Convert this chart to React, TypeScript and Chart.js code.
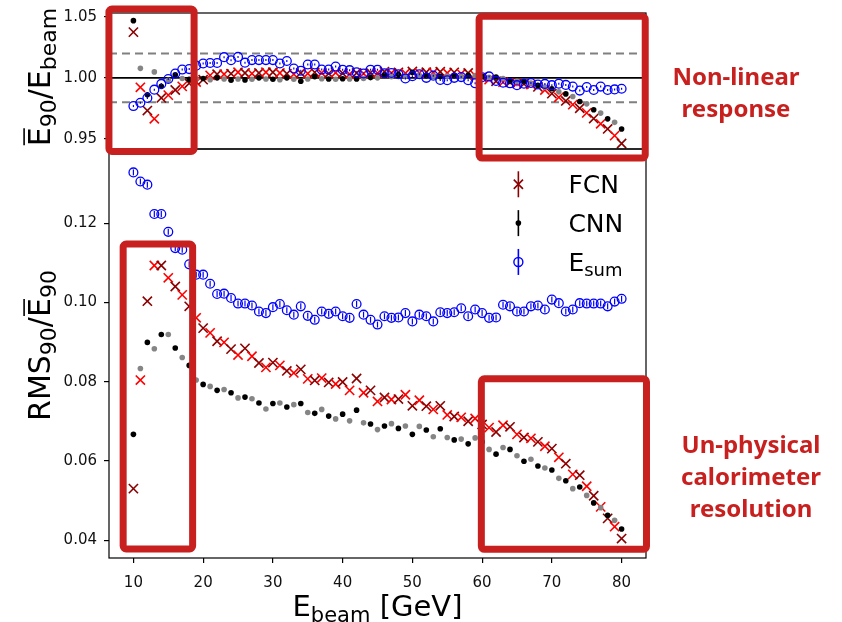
import React, { useEffect, useRef } from 'react';
import { Chart, registerables } from 'chart.js';
Chart.register(...registerables);

const ENERGY = [10, 11, 12, 13, 14, 15, 16, 17, 18, 19, 20, 21, 22, 23, 24, 25, 26, 27, 28, 29, 30, 31, 32, 33, 34, 35, 36, 37, 38, 39, 40, 41, 42, 43, 44, 45, 46, 47, 48, 49, 50, 51, 52, 53, 54, 55, 56, 57, 58, 59, 60, 61, 62, 63, 64, 65, 66, 67, 68, 69, 70, 71, 72, 73, 74, 75, 76, 77, 78, 79, 80];

// Top panel: mean E90 / Ebeam
const FCN_RESP = [1.0376, 0.9922, 0.9731, 0.9663, 0.9835, 0.9858, 0.99, 0.993, 0.9955, 0.9966, 0.9985, 1.002, 1.003, 1.003, 1.0034, 1.0046, 1.004, 1.0035, 1.004, 1.0046, 1.0046, 1.004, 1.0034, 1.003, 1.004, 1.0035, 1.0045, 1.004, 1.0035, 1.0042, 1.0038, 1.003, 1.004, 1.0035, 1.0042, 1.0038, 1.005, 1.004, 1.0045, 1.0038, 1.0052, 1.004, 1.0046, 1.0044, 1.005, 1.004, 1.0045, 1.0035, 1.004, 1.002, 1.0005, 0.9985, 0.9972, 0.9965, 0.9962, 0.9955, 0.995, 0.9945, 0.9925, 0.99, 0.987, 0.984, 0.981, 0.978, 0.975, 0.9712, 0.9665, 0.9622, 0.958, 0.9525, 0.946];
const CNN_RESP = [1.047, 1.0078, 0.986, 1.0049, 0.993, 0.998, 1.0024, 0.9995, 0.9987, 0.9993, 0.9995, 0.9985, 1.0, 0.999, 0.998, 0.999, 0.9982, 0.9988, 1.0, 0.999, 0.9988, 0.9985, 1.0, 0.9988, 0.9972, 0.999, 1.001, 0.9992, 0.999, 0.9988, 0.9992, 0.999, 0.999, 0.9995, 1.0002, 1.0, 1.0022, 1.001, 1.0028, 1.0015, 1.0045, 1.002, 1.002, 1.0015, 1.0012, 1.0015, 1.002, 1.001, 1.002, 1.0018, 1.0012, 1.0005, 1.0007, 0.9995, 0.9972, 0.9972, 0.997, 0.9957, 0.9938, 0.9924, 0.991, 0.9885, 0.9868, 0.9847, 0.9806, 0.9786, 0.9738, 0.971, 0.9663, 0.9634, 0.958];
const ESUM_RESP = [0.9768, 0.9795, 0.9834, 0.9903, 0.995, 0.999, 1.0036, 1.0068, 1.0072, 1.01, 1.0118, 1.0122, 1.0122, 1.017, 1.0145, 1.0172, 1.0125, 1.0146, 1.0146, 1.0146, 1.0146, 1.0118, 1.0138, 1.0077, 1.0058, 1.011, 1.011, 1.0068, 1.0068, 1.0093, 1.0067, 1.0063, 1.0045, 1.0036, 1.0067, 1.0067, 1.0038, 1.004, 1.003, 0.9995, 1.0014, 1.003, 1.0, 1.0018, 0.9982, 0.998, 1.0, 1.0006, 0.998, 0.9955, 1.0005, 1.0012, 0.9975, 0.996, 0.9955, 0.994, 0.9952, 0.9958, 0.9945, 0.995, 0.994, 0.9952, 0.9942, 0.9928, 0.9895, 0.9925, 0.99, 0.9928, 0.99, 0.9905, 0.991];

// Bottom panel: RMS90 / mean E90
const FCN_RES = [0.053, 0.0804, 0.1003, 0.1093, 0.1093, 0.1062, 0.104, 0.1019, 0.099, 0.0961, 0.0935, 0.0923, 0.0902, 0.0899, 0.0882, 0.0867, 0.0884, 0.0864, 0.0847, 0.0836, 0.0848, 0.0841, 0.0827, 0.0822, 0.0831, 0.0807, 0.0803, 0.0809, 0.0798, 0.0794, 0.0799, 0.0778, 0.0808, 0.0772, 0.0778, 0.075, 0.076, 0.0755, 0.0756, 0.0767, 0.0739, 0.0753, 0.0738, 0.073, 0.0739, 0.0716, 0.0712, 0.071, 0.07, 0.0707, 0.0692, 0.0684, 0.0673, 0.069, 0.0686, 0.0667, 0.0659, 0.0657, 0.0648, 0.0637, 0.0631, 0.0609, 0.0593, 0.0566, 0.0564, 0.0536, 0.0512, 0.0484, 0.0455, 0.0434, 0.0404];
const CNN_RES = [0.0667, 0.0833, 0.0899, 0.0883, 0.0919, 0.0919, 0.0885, 0.0861, 0.0841, 0.0804, 0.0793, 0.0788, 0.0778, 0.078, 0.0772, 0.0759, 0.0761, 0.0757, 0.0746, 0.0731, 0.0745, 0.0746, 0.0736, 0.0742, 0.0745, 0.0722, 0.072, 0.073, 0.0713, 0.0706, 0.0718, 0.0701, 0.0728, 0.0696, 0.0693, 0.0679, 0.0688, 0.0694, 0.0682, 0.0688, 0.0667, 0.0687, 0.0678, 0.0661, 0.0681, 0.0659, 0.0653, 0.0655, 0.0643, 0.0658, 0.0648, 0.0629, 0.0617, 0.0634, 0.0629, 0.0613, 0.0599, 0.0604, 0.0587, 0.0582, 0.0577, 0.0556, 0.055, 0.053, 0.0534, 0.0513, 0.0494, 0.0482, 0.0463, 0.045, 0.0428];
const ESUM_RES = [0.1328, 0.1305, 0.1297, 0.1223, 0.1223, 0.1178, 0.1137, 0.1133, 0.1096, 0.107, 0.107, 0.1047, 0.1021, 0.1022, 0.1011, 0.0997, 0.0997, 0.0992, 0.0977, 0.0973, 0.0988, 0.0996, 0.098, 0.0969, 0.099, 0.0966, 0.0956, 0.0977, 0.0971, 0.0977, 0.0965, 0.0961, 0.0996, 0.0969, 0.0956, 0.0944, 0.0965, 0.0961, 0.0962, 0.0973, 0.0952, 0.0969, 0.0965, 0.0952, 0.0975, 0.0973, 0.0975, 0.0985, 0.0965, 0.0982, 0.0973, 0.0961, 0.0962, 0.0994, 0.099, 0.0977, 0.0977, 0.099, 0.0992, 0.0982, 0.1007, 0.0998, 0.0977, 0.0982, 0.0998, 0.0997, 0.0997, 0.0997, 0.099, 0.1002, 0.1009];

const X_TICKS = [10, 20, 30, 40, 50, 60, 70, 80];
const TOP_TICKS = [0.95, 1.0, 1.05];
const BOTTOM_TICKS = [0.04, 0.06, 0.08, 0.1, 0.12];
const REF_LINES = [0.98, 1.0, 1.02];
const LEGEND_LABELS = ['FCN', 'CNN', 'E'];

// annotation boxes in data units of their panel
const BOXES = [
  { axis: 'yTop', x0: 6.49, x1: 18.7, y0: 1.0566, y1: 0.9395 },
  { axis: 'yTop', x0: 59.57, x1: 83.39, y0: 1.0506, y1: 0.934 },
  { axis: 'y', x0: 8.53, x1: 18.49, y0: 0.1147, y1: 0.0378 },
  { axis: 'y', x0: 59.89, x1: 83.57, y0: 0.0807, y1: 0.0377 },
];

const DARKRED = '#8b0000';
const RED = '#ff0000';
const GRAY = '#858585';
const BLUE = '#0000ff';
const ANN = '#c7201f';
const FONT = '"DejaVu Sans", sans-serif';

type Seg = { t: string; size: number; dy?: number; over?: boolean };

function drawRich(ctx: CanvasRenderingContext2D, segs: Seg[], x: number, y: number, rot: number, color = '#000') {
  ctx.save();
  ctx.translate(x, y);
  ctx.rotate(rot);
  ctx.fillStyle = color;
  ctx.strokeStyle = color;
  ctx.textAlign = 'left';
  ctx.textBaseline = 'alphabetic';
  let total = 0;
  for (const s of segs) {
    ctx.font = `${s.size}px ${FONT}`;
    total += ctx.measureText(s.t).width;
  }
  let cx = -total / 2;
  for (const s of segs) {
    ctx.font = `${s.size}px ${FONT}`;
    const w = ctx.measureText(s.t).width;
    ctx.fillText(s.t, cx, s.dy || 0);
    if (s.over) {
      const oy = (s.dy || 0) - s.size * 0.73 - 4;
      ctx.lineWidth = 1.6;
      ctx.beginPath();
      ctx.moveTo(cx + 1, oy);
      ctx.lineTo(cx + w - 1, oy);
      ctx.stroke();
    }
    cx += w;
  }
  ctx.restore();
}

const pts = (ys: number[]) => ENERGY.map((e, i) => ({ x: e, y: ys[i] }));

const overlay = {
  id: 'overlay',
  beforeDatasetsDraw(chart: any) {
    const { ctx, chartArea } = chart;
    const yt = chart.scales.yTop;
    ctx.save();
    REF_LINES.forEach((v) => {
      const py = yt.getPixelForValue(v);
      ctx.beginPath();
      if (v === 1.0) {
        ctx.setLineDash([]);
        ctx.strokeStyle = '#000';
        ctx.lineWidth = 1.6;
      } else {
        ctx.setLineDash([8, 5]);
        ctx.strokeStyle = '#808080';
        ctx.lineWidth = 2;
      }
      ctx.moveTo(chartArea.left, py);
      ctx.lineTo(chartArea.right, py);
      ctx.stroke();
    });
    ctx.restore();
  },
  afterDatasetsDraw(chart: any) {
    const { ctx, chartArea } = chart;
    const xs = chart.scales.x;
    const yb = chart.scales.y;
    const yt = chart.scales.yTop;
    ctx.save();
    // error bars of Esum
    ctx.strokeStyle = BLUE;
    ctx.lineWidth = 1.2;
    ENERGY.forEach((e, i) => {
      const px = xs.getPixelForValue(e);
      const pb = yb.getPixelForValue(ESUM_RES[i]);
      ctx.beginPath();
      ctx.moveTo(px, pb - 3);
      ctx.lineTo(px, pb + 3);
      ctx.stroke();
      const pt = yt.getPixelForValue(ESUM_RESP[i]);
      ctx.beginPath();
      ctx.moveTo(px, pt - 1);
      ctx.lineTo(px, pt + 1);
      ctx.stroke();
    });
    // frames
    ctx.strokeStyle = '#000';
    ctx.lineWidth = 1.2;
    [yt, yb].forEach((s) => {
      ctx.strokeRect(chartArea.left, s.top, chartArea.right - chartArea.left, s.bottom - s.top);
    });
    // legend
    const lx = xs.getPixelForValue(65.2);
    const tx = lx + 50;
    const rows = [yb.getPixelForValue(0.1298), yb.getPixelForValue(0.12), yb.getPixelForValue(0.1102)];
    const cols = [DARKRED, '#000', BLUE];
    rows.forEach((ry, k) => {
      ctx.strokeStyle = cols[k];
      ctx.fillStyle = cols[k];
      ctx.lineWidth = 1.6;
      ctx.beginPath();
      ctx.moveTo(lx, ry - 13);
      ctx.lineTo(lx, ry + 13);
      ctx.stroke();
      if (k === 0) {
        ctx.beginPath();
        ctx.moveTo(lx - 4.6, ry - 4.6);
        ctx.lineTo(lx + 4.6, ry + 4.6);
        ctx.moveTo(lx - 4.6, ry + 4.6);
        ctx.lineTo(lx + 4.6, ry - 4.6);
        ctx.stroke();
      } else if (k === 1) {
        ctx.beginPath();
        ctx.arc(lx, ry, 2.8, 0, Math.PI * 2);
        ctx.fill();
      } else {
        ctx.lineWidth = 1.4;
        ctx.beginPath();
        ctx.arc(lx, ry, 4.5, 0, Math.PI * 2);
        ctx.stroke();
      }
      ctx.fillStyle = '#000';
      ctx.textAlign = 'left';
      ctx.textBaseline = 'alphabetic';
      ctx.font = `25px ${FONT}`;
      ctx.fillText(LEGEND_LABELS[k], tx, ry + 9);
      if (k === 2) {
        const w = ctx.measureText(LEGEND_LABELS[k]).width;
        ctx.font = `18px ${FONT}`;
        ctx.fillText('sum', tx + w, ry + 14);
      }
    });
    // annotation boxes
    ctx.strokeStyle = ANN;
    ctx.lineWidth = 7;
    ctx.lineJoin = 'round';
    BOXES.forEach((b) => {
      const s = chart.scales[b.axis];
      const x0 = xs.getPixelForValue(b.x0);
      const x1 = xs.getPixelForValue(b.x1);
      const y0 = s.getPixelForValue(b.y0);
      const y1 = s.getPixelForValue(b.y1);
      ctx.beginPath();
      (ctx as any).roundRect(x0, y0, x1 - x0, y1 - y0, 3);
      ctx.stroke();
    });
    // annotation texts
    ctx.fillStyle = ANN;
    ctx.textAlign = 'center';
    ctx.textBaseline = 'alphabetic';
    ctx.font = `bold 24px "Noto Sans", sans-serif`;
    ctx.fillText('Non-linear', 736, 85);
    ctx.fillText('response', 736, 117);
    ctx.fillText('Un-physical', 751, 453);
    ctx.fillText('calorimeter', 751, 485);
    ctx.fillText('resolution', 751, 517);
    ctx.restore();
    // axis titles
    const midX = (chartArea.left + chartArea.right) / 2;
    drawRich(ctx, [
      { t: 'E', size: 29 },
      { t: 'beam', size: 21, dy: 6 },
      { t: ' [GeV]', size: 29 },
    ], midX, 616, 0);
    drawRich(ctx, [
      { t: 'RMS', size: 30 },
      { t: '90', size: 22, dy: 6 },
      { t: '/', size: 30 },
      { t: 'E', size: 30, over: true },
      { t: '90', size: 22, dy: 6 },
    ], 50, (yb.top + yb.bottom) / 2 - 8, -Math.PI / 2);
    drawRich(ctx, [
      { t: 'E', size: 30, over: true },
      { t: '90', size: 22, dy: 6 },
      { t: '/E', size: 30 },
      { t: 'beam', size: 22, dy: 6 },
    ], 50, (yt.top + yt.bottom) / 2 - 4, -Math.PI / 2);
  },
};

const tickFont = { family: 'DejaVu Sans', size: 15 };

export default function App() {
  const ref = useRef<HTMLCanvasElement>(null);
  useEffect(() => {
    document.body.style.margin = '0';
    const canvas = ref.current!;
    const fcnColor = (c: any) => (c.dataIndex % 2 ? RED : DARKRED);
    const cnnColor = (c: any) => (c.dataIndex % 2 ? GRAY : '#000');
    const fcn = { pointStyle: 'crossRot', pointRadius: 6.5, pointBorderWidth: 1.6, pointBorderColor: fcnColor, pointBackgroundColor: fcnColor, showLine: false, order: 3 };
    const cnn = { pointStyle: 'circle', pointRadius: 2.8, pointBorderWidth: 0, pointBackgroundColor: cnnColor, pointBorderColor: cnnColor, showLine: false, order: 2 };
    const esum = { pointStyle: 'circle', pointRadius: 4.4, pointBorderWidth: 1.3, pointBorderColor: BLUE, pointBackgroundColor: 'rgba(0,0,0,0)', showLine: false, order: 1 };
    const yCommon = (ticks: number[]) => ({
      type: 'linear',
      position: 'left',
      stack: 'panels',
      afterBuildTicks: (s: any) => { s.ticks = ticks.map((v) => ({ value: v })); },
      afterFit: (s: any) => { s.width = 109; s.paddingTop = 0; s.paddingBottom = 0; },
      grid: { display: true, drawOnChartArea: false, drawTicks: true, tickLength: 5, color: '#000', lineWidth: 1.2 },
      border: { display: false },
      ticks: { font: tickFont, color: '#111', padding: 7, callback: (v: any) => Number(v).toFixed(2) },
    });
    const chart = new Chart(canvas, {
      type: 'scatter',
      data: {
        datasets: [
          { label: 'FCN', data: pts(FCN_RES), yAxisID: 'y', ...fcn },
          { label: 'CNN', data: pts(CNN_RES), yAxisID: 'y', ...cnn },
          { label: 'Esum', data: pts(ESUM_RES), yAxisID: 'y', ...esum },
          { label: 'FCN resp', data: pts(FCN_RESP), yAxisID: 'yTop', ...fcn },
          { label: 'CNN resp', data: pts(CNN_RESP), yAxisID: 'yTop', ...cnn },
          { label: 'Esum resp', data: pts(ESUM_RESP), yAxisID: 'yTop', ...esum },
        ] as any,
      },
      options: {
        animation: false,
        responsive: false,
        devicePixelRatio: 1,
        events: [],
        layout: { padding: { top: 13, right: 196, left: 0, bottom: 0 } },
        plugins: { legend: { display: false }, tooltip: { enabled: false } },
        scales: {
          x: {
            type: 'linear',
            min: 6.5,
            max: 83.5,
            afterBuildTicks: (s: any) => { s.ticks = X_TICKS.map((v) => ({ value: v })); },
            afterFit: (s: any) => { s.height = 64; s.paddingLeft = 0; s.paddingRight = 0; },
            grid: { display: true, drawOnChartArea: false, drawTicks: true, tickLength: 5, color: '#000', lineWidth: 1.2 },
            border: { display: false },
            ticks: { font: tickFont, color: '#111', padding: 11, maxRotation: 0, autoSkip: false, callback: (v: any) => String(v) },
          },
          y: { ...yCommon(BOTTOM_TICKS), min: 0.0355, max: 0.1387, stackWeight: 409 },
          yTop: { ...yCommon(TOP_TICKS), min: 0.9415, max: 1.0533, stackWeight: 136 },
        } as any,
      },
      plugins: [overlay],
    });
    return () => chart.destroy();
  }, []);
  return (
    <div style={{ width: 842, height: 622, background: '#fff' }}>
      <canvas ref={ref} width={842} height={622} style={{ display: 'block', width: 842, height: 622 }} />
    </div>
  );
}
